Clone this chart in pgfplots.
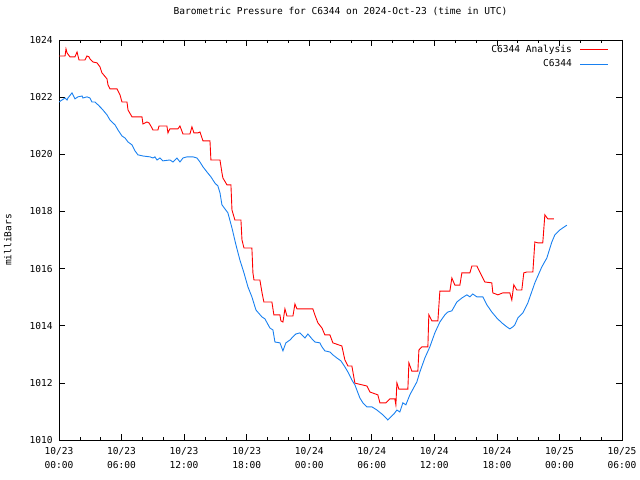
\documentclass[border=0pt]{standalone}
\usepackage{pgfplots}
\pgfplotsset{compat=1.18}
\usepackage{fontspec}
\setmainfont{DejaVu Sans Mono}
\setmonofont{DejaVu Sans Mono}
\definecolor{anred}{RGB}{255,0,0}
\definecolor{obsblue}{RGB}{24,128,240}
\begin{document}
\fontsize{9.6}{11}\selectfont
\begin{tikzpicture}[x=1bp,y=1bp]
\path[use as bounding box] (0,0) rectangle (640,480);
\begin{axis}[
  at={(59bp,40bp)}, anchor=south west,
  scale only axis, width=563bp, height=400bp,
  xmin=0, xmax=54, ymin=1010, ymax=1024,
  xtick={0,6,...,54},
  xticklabels={{10/23\\00:00},{10/23\\06:00},{10/23\\12:00},{10/23\\18:00},{10/24\\00:00},{10/24\\06:00},{10/24\\12:00},{10/24\\18:00},{10/25\\00:00},{10/25\\06:00}},
  xticklabel style={align=center, font=\fontsize{9.6}{14}\selectfont, yshift=-4bp},
  minor x tick num=2,
  ytick={1010,1012,...,1024},
  yticklabel style={font=\fontsize{9.6}{11}\selectfont, xshift=-3bp},
  /pgf/number format/assume math mode=true,
  /pgf/number format/1000 sep={},
  tick align=inside,
  major tick length=6bp, minor tick length=3bp,
  tick style={black, line width=0.6pt},
  axis line style={black, line width=0.8pt},
  title={Barometric Pressure for C6344 on 2024-Oct-23 (time in UTC)},
  title style={at={(0.5,1)}, anchor=south, yshift=15bp, font=\fontsize{9.6}{11}\selectfont},
  ylabel={milliBars},
  ylabel style={at={(0,0.5)}, anchor=south, yshift=44bp, font=\fontsize{9.6}{11}\selectfont},
  legend plot pos=right,
  legend cell align=right,
  legend style={at={(0.977,0.993)}, anchor=north east, draw=none, fill=none,
    font=\fontsize{9.6}{11}\selectfont, row sep=2bp, inner sep=0pt},
  legend image code/.code={\path (0bp,0bp); \draw[#1, line width=0.9pt] (6bp,0bp) -- (34bp,0bp);},
]
\addplot[anred, line width=0.9pt] coordinates {
(0,1023.44)(0.58,1023.44)(0.67,1023.69)(0.77,1023.55)(1.05,1023.41)(1.53,1023.41)
(1.73,1023.58)(1.92,1023.30)(2.49,1023.30)(2.68,1023.44)(2.88,1023.41)(2.97,1023.34)
(3.26,1023.23)(3.64,1023.20)(3.93,1023.06)(4.12,1022.85)(4.60,1022.64)(4.70,1022.43)
(4.89,1022.29)(5.56,1022.29)(5.85,1022.08)(6.04,1021.83)(6.52,1021.83)(6.62,1021.55)
(7.00,1021.31)(7.96,1021.31)(8.05,1021.06)(8.44,1021.13)(8.63,1021.10)(8.92,1020.92)
(9.01,1020.85)(9.49,1020.85)(9.59,1020.99)(10.35,1020.99)(10.45,1020.75)(10.64,1020.89)
(11.41,1020.89)(11.60,1020.99)(11.89,1020.71)(12.56,1020.71)(12.75,1020.96)(12.94,1020.75)
(13.33,1020.75)(13.52,1020.78)(13.81,1020.47)(14.48,1020.47)(14.57,1019.80)(15.44,1019.80)
(15.63,1019.35)(15.72,1019.17)(16.11,1018.93)(16.49,1018.93)(16.59,1018.05)(16.87,1017.70)
(17.45,1017.70)(17.55,1017.00)(17.74,1016.72)(18.50,1016.72)(18.60,1015.85)(18.70,1015.60)
(19.27,1015.60)(19.46,1015.18)(19.65,1014.83)(20.42,1014.83)(20.61,1014.38)(21.19,1014.38)
(21.28,1014.17)(21.48,1014.13)(21.67,1014.59)(21.86,1014.34)(22.44,1014.34)(22.63,1014.76)
(22.82,1014.59)(24.35,1014.59)(24.54,1014.38)(24.83,1014.10)(25.22,1013.92)(25.50,1013.68)
(25.98,1013.68)(26.27,1013.40)(27.13,1013.29)(27.42,1012.80)(27.71,1012.59)(28.09,1012.59)
(28.38,1011.99)(29.53,1011.89)(29.82,1011.68)(30.58,1011.58)(30.78,1011.30)(31.35,1011.30)
(31.74,1011.44)(32.21,1011.44)(32.31,1011.23)(32.41,1012.00)(32.60,1011.78)(33.46,1011.78)
(33.56,1012.70)(33.84,1012.41)(34.42,1012.41)(34.52,1013.15)(34.80,1013.26)(35.38,1013.26)
(35.47,1014.38)(35.76,1014.17)(36.34,1014.17)(36.53,1015.21)(37.49,1015.21)(37.68,1015.67)
(37.97,1015.42)(38.45,1015.42)(38.64,1015.85)(39.41,1015.85)(39.60,1016.09)(40.08,1016.09)
(40.36,1015.88)(40.84,1015.53)(41.51,1015.50)(41.61,1015.15)(42.09,1015.08)(42.57,1015.15)
(43.24,1015.15)(43.43,1014.90)(43.62,1015.43)(43.91,1015.25)(44.39,1015.25)(44.58,1015.85)
(44.87,1015.88)(45.45,1015.88)(45.64,1016.93)(45.92,1016.90)(46.40,1016.90)(46.60,1017.88)
(46.88,1017.74)(47.46,1017.74)
};
\addlegendentry{C6344 Analysis}
\addplot[obsblue, line width=0.9pt] coordinates {
(0,1021.83)(0.29,1021.90)(0.58,1021.97)(0.77,1021.90)(0.86,1021.97)(1.25,1022.15)
(1.53,1021.94)(1.82,1022.01)(2.21,1022.04)(2.30,1021.97)(2.68,1022.01)(2.97,1021.97)
(3.16,1021.83)(3.45,1021.83)(3.74,1021.73)(4.12,1021.59)(4.60,1021.38)(4.89,1021.20)
(5.37,1021.03)(5.66,1020.85)(6.04,1020.64)(6.33,1020.57)(6.62,1020.43)(7.00,1020.33)
(7.29,1020.12)(7.57,1019.98)(8.05,1019.94)(8.72,1019.91)(9.01,1019.87)(9.20,1019.91)
(9.40,1019.80)(9.68,1019.87)(9.97,1019.77)(10.64,1019.80)(10.93,1019.73)(11.31,1019.87)
(11.60,1019.73)(11.89,1019.87)(12.27,1019.91)(12.85,1019.91)(13.23,1019.87)(13.52,1019.73)
(13.81,1019.56)(14.19,1019.38)(14.57,1019.21)(14.96,1018.99)(15.24,1018.89)(15.44,1018.65)
(15.63,1018.23)(16.20,1017.95)(16.59,1017.42)(16.97,1016.83)(17.35,1016.30)(17.74,1015.85)
(18.12,1015.36)(18.50,1015.01)(18.89,1014.55)(19.46,1014.31)(19.75,1014.24)(20.23,1013.92)
(20.52,1013.85)(20.71,1013.43)(21.19,1013.40)(21.48,1013.12)(21.76,1013.40)(22.15,1013.50)
(22.44,1013.61)(22.72,1013.71)(23.11,1013.75)(23.59,1013.57)(23.87,1013.71)(24.26,1013.54)
(24.54,1013.43)(25.02,1013.40)(25.22,1013.26)(25.50,1013.12)(25.98,1013.08)(26.27,1012.98)
(26.65,1012.87)(27.04,1012.77)(27.42,1012.56)(27.71,1012.38)(28.09,1012.10)(28.38,1011.93)
(28.67,1011.65)(28.86,1011.47)(29.15,1011.30)(29.53,1011.16)(30.01,1011.16)(30.49,1011.05)
(30.97,1010.91)(31.26,1010.81)(31.54,1010.70)(31.83,1010.81)(32.12,1010.91)(32.41,1011.05)
(32.69,1010.98)(32.98,1011.30)(33.27,1011.23)(33.65,1011.58)(34.32,1012.03)(34.61,1012.38)
(35.09,1012.87)(35.57,1013.26)(36.05,1013.75)(36.53,1014.13)(37.01,1014.38)(37.30,1014.48)
(37.68,1014.52)(38.16,1014.83)(38.64,1014.97)(39.12,1015.08)(39.41,1015.01)(39.69,1015.11)
(40.08,1015.01)(40.65,1015.01)(41.04,1014.73)(41.51,1014.48)(41.99,1014.27)(42.47,1014.10)
(42.95,1013.96)(43.24,1013.89)(43.53,1013.96)(43.72,1014.03)(44.01,1014.27)(44.49,1014.45)
(44.97,1014.80)(45.64,1015.50)(46.31,1016.06)(46.79,1016.37)(47.27,1016.93)(47.56,1017.18)
(48.03,1017.35)(48.71,1017.52)
};
\addlegendentry{C6344}
\end{axis}
\end{tikzpicture}
\end{document}
